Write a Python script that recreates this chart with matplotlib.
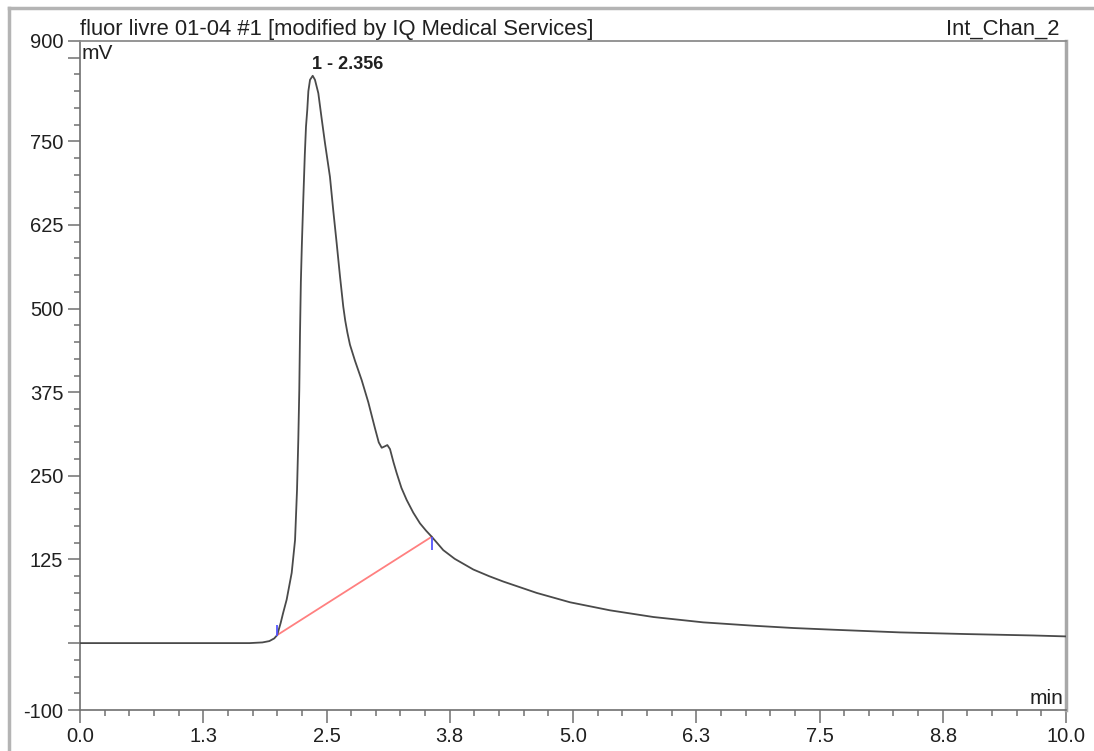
import numpy as np
import matplotlib.pyplot as plt
from matplotlib.lines import Line2D

plt.rcParams['font.family'] = ['Liberation Sans', 'DejaVu Sans']

# chromatogram
time_min = [0.0, 1.72, 1.85, 1.92, 1.97, 2.00, 2.035, 2.06, 2.096, 2.147, 2.181, 2.201,
            2.214, 2.224, 2.231, 2.24, 2.25, 2.265, 2.28, 2.292, 2.305, 2.316, 2.333,
            2.36, 2.383, 2.417, 2.45, 2.485, 2.535, 2.569, 2.603, 2.637, 2.67, 2.69,
            2.712, 2.738, 2.789, 2.857, 2.924, 2.99, 3.03, 3.06, 3.09, 3.117, 3.144,
            3.18, 3.212, 3.26, 3.313, 3.38, 3.448, 3.51, 3.567, 3.62, 3.684, 3.80,
            3.989, 4.15, 4.293, 4.632, 4.97, 5.375, 5.815, 6.321, 6.829, 7.24, 7.64,
            8.316, 8.993, 9.668, 10.0]
signal_mv = [0, 0, 1, 3, 7, 12, 30, 45, 65, 105, 154, 229,
             304, 378, 460, 540, 595, 665, 730, 772, 797, 825, 842,
             848, 842, 822, 785, 747, 697, 646, 598, 548, 503, 482,
             464, 446, 422, 393, 360, 322, 300, 292, 294, 296, 290,
             270, 254, 232, 214, 195, 179, 168, 159, 150, 139, 126,
             110, 100, 92, 75, 61, 49, 39, 31, 26, 22.5, 20,
             16, 13.5, 11.4, 10]

peak_time = 2.356
peak_mv = 848
peak_label = "1 - 2.356"

# integration baseline (start, end)
base_t = [2.0, 3.567]
base_mv = [12, 159]

x_ticks = np.arange(0, 10.01, 1.25)
x_labels = ["0.0", "1.3", "2.5", "3.8", "5.0", "6.3", "7.5", "8.8", "10.0"]
y_ticks = [-100, 0, 125, 250, 375, 500, 625, 750, 875, 900]
y_labels = ["-100", "", "125", "250", "375", "500", "625", "750", "", "900"]

fig = plt.figure(figsize=(10.94, 7.51), dpi=100)
ax = fig.add_axes([80 / 1094, 41 / 751, 986 / 1094, 669 / 751])

ax.plot(time_min, signal_mv, color="#4a4a4a", lw=1.3, zorder=3)
ax.plot(base_t, base_mv, color="#ff8080", lw=1.3, zorder=2)
ax.vlines(base_t[0], base_mv[0] - 2, base_mv[0] + 15, color="#5555ff", lw=1.3, zorder=4)
ax.vlines(base_t[1], base_mv[1] - 20, base_mv[1], color="#5555ff", lw=1.3, zorder=4)

ax.annotate(peak_label, (peak_time, peak_mv), xytext=(0, 2), textcoords="offset points",
            ha="left", va="bottom", fontsize=13, fontweight="bold", color="#202020")

ax.set_xlim(0, 10)
ax.set_ylim(-100, 900)
ax.set_xticks(x_ticks)
ax.set_xticklabels(x_labels)
ax.set_xticks(np.arange(0, 10.01, 0.25), minor=True)
ax.set_yticks(y_ticks)
ax.set_yticklabels(y_labels)
ax.set_yticks(np.arange(-100, 901, 25), minor=True)

ax.tick_params(axis="both", which="major", length=9, width=1.1, color="#707070",
               labelsize=14.5, labelcolor="#202020", pad=3)
ax.tick_params(axis="both", which="minor", length=4.5, width=1.1, color="#707070")

for side in ["left", "bottom"]:
    ax.spines[side].set_color("#707070")
    ax.spines[side].set_linewidth(1.2)
ax.spines["top"].set_color("#8c8c8c")
ax.spines["top"].set_linewidth(1.3)
ax.spines["right"].set_color("#a8a8a8")
ax.spines["right"].set_linewidth(2.5)

ax.text(0.002, 0.995, "mV", transform=ax.transAxes, ha="left", va="top",
        fontsize=15, color="#202020")
ax.text(0.997, 0.003, "min", transform=ax.transAxes, ha="right", va="bottom",
        fontsize=15, color="#202020")
ax.text(0.0, 1.002, "fluor livre 01-04 #1 [modified by IQ Medical Services]",
        transform=ax.transAxes, ha="left", va="bottom", fontsize=15.8, color="#202020")
ax.text(0.993, 1.002, "Int_Chan_2", transform=ax.transAxes, ha="right", va="bottom",
        fontsize=15.8, color="#202020")

# outer window frame
fig.add_artist(Line2D([9 / 1094, 9 / 1094], [0, 743 / 751], color="#b4b4b4", lw=2.5))
fig.add_artist(Line2D([9 / 1094, 1], [743 / 751, 743 / 751], color="#b4b4b4", lw=2.5))

fig.savefig("out.png", dpi=100)
